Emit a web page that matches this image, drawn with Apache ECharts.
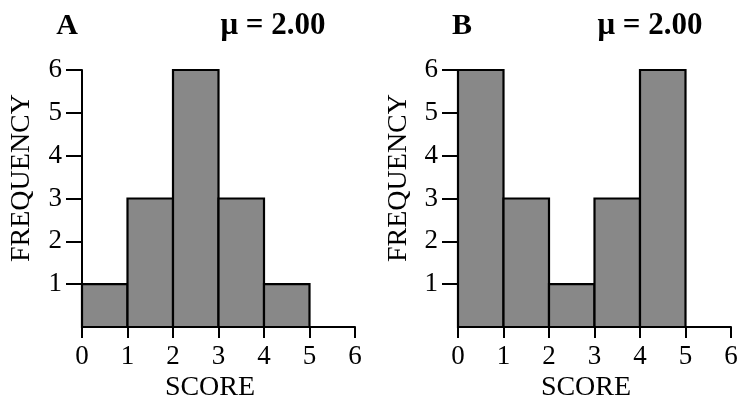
<!DOCTYPE html>
<html>
<head>
<meta charset="utf-8">
<script src="https://cdn.jsdelivr.net/npm/echarts@6/dist/echarts.min.js"></script>
<style>
html,body{margin:0;padding:0;background:#fff;}
#c{width:741px;height:402px;}
</style>
</head>
<body>
<div id="c"></div>
<script>
// Score bin edges (start, end) and frequencies
var binStarts = [0, 1, 2, 3, 4];
var binEnds = [1, 2, 3, 4, 5];
var freqA = [1, 3, 6, 3, 1];
var freqB = [6, 3, 1, 3, 6];
var xTicks = [0, 1, 2, 3, 4, 5, 6];
var yTicks = [1, 2, 3, 4, 5, 6];
var panelLabels = ['A', 'B'];
var meanLabels = ['\u03bc = 2.00', '\u03bc = 2.00'];
var xTitle = 'SCORE';
var yTitle = 'FREQUENCY';

var FONT = '"Liberation Serif", "Times New Roman", serif';

function binData(freq) {
  return binStarts.map(function (s, i) { return [s, binEnds[i], freq[i]]; });
}

function renderItem(params, api) {
  var p0 = api.coord([api.value(0), api.value(2)]);
  var p1 = api.coord([api.value(1), 0]);
  return {
    type: 'rect',
    shape: { x: p0[0], y: p0[1], width: p1[0] - p0[0], height: p1[1] - p0[1] },
    style: { fill: '#888888', stroke: '#000', lineWidth: 2.2 }
  };
}

var grids = [
  { left: 82, width: 273, top: 70, height: 257 },
  { left: 458, width: 273, top: 70, height: 257 }
];

function xAxis(i) {
  return {
    type: 'value', gridIndex: i, min: 0, max: 6, interval: 1,
    axisLine: { lineStyle: { color: '#000', width: 2 } },
    axisTick: { show: true, length: 11, customValues: xTicks, lineStyle: { color: '#000', width: 2 } },
    axisLabel: { customValues: xTicks, color: '#000', fontFamily: FONT, fontSize: 27, margin: 16 },
    splitLine: { show: false }
  };
}
function yAxis(i) {
  return {
    type: 'value', gridIndex: i, min: 0, max: 6, interval: 1,
    axisLine: { show: true, lineStyle: { color: '#000', width: 2 } },
    axisTick: { show: true, length: 16, customValues: yTicks, lineStyle: { color: '#000', width: 2 } },
    axisLabel: { customValues: yTicks, color: '#000', fontFamily: FONT, fontSize: 27, margin: 20 },
    splitLine: { show: false }
  };
}

var graphics = [];
var centers = [218, 594];
[0, 1].forEach(function (i) {
  graphics.push({ type: 'text', x: [67, 462][i], y: 26,
    style: { text: panelLabels[i], font: 'bold 30px ' + FONT, fill: '#000', textAlign: 'center', textVerticalAlign: 'middle' } });
  graphics.push({ type: 'text', x: [273, 650][i], y: 26,
    style: { text: meanLabels[i], font: 'bold 31px ' + FONT, fill: '#000', textAlign: 'center', textVerticalAlign: 'middle' } });
  graphics.push({ type: 'text', x: centers[i] - 8, y: 388,
    style: { text: xTitle, font: '28px ' + FONT, fill: '#000', textAlign: 'center', textVerticalAlign: 'middle' } });
  graphics.push({ type: 'text', x: [22, 399][i], y: 178, rotation: Math.PI / 2,
    style: { text: yTitle, font: '28px ' + FONT, fill: '#000', textAlign: 'center', textVerticalAlign: 'middle' } });
});

var chart = echarts.init(document.getElementById('c'));
chart.setOption({
  animation: false,
  backgroundColor: '#fff',
  grid: grids,
  xAxis: [xAxis(0), xAxis(1)],
  yAxis: [yAxis(0), yAxis(1)],
  series: [
    { type: 'custom', xAxisIndex: 0, yAxisIndex: 0, renderItem: renderItem, data: binData(freqA), encode: { x: [0, 1], y: 2 } },
    { type: 'custom', xAxisIndex: 1, yAxisIndex: 1, renderItem: renderItem, data: binData(freqB), encode: { x: [0, 1], y: 2 } }
  ],
  graphic: graphics
});
</script>
</body>
</html>
